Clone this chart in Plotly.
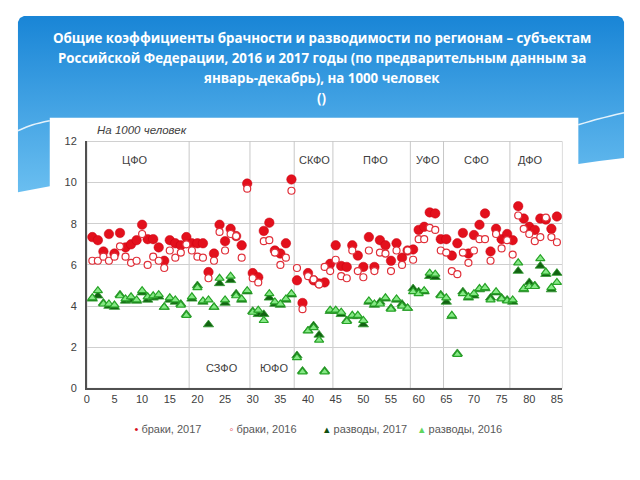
import plotly.graph_objects as go

# ---------------- data ----------------
regions_x = list(range(1, 86))

marriages_2017 = [7.35, 7.2, 6.65, 7.5, 6.55, 7.55, 6.85, 7.0, 7.2, 7.95,
                  7.25, 7.25, 6.85, 6.2, 7.2, 7.05, 6.95, 7.35, 7.05, 7.05,
                  7.05, 5.65, 6.55, 7.95, 7.15, 7.75, 7.4, 6.95, 9.95, 5.6,
                  5.4, 7.65, 8.05, 6.7, 6.55, 7.05, 10.15, 5.25, 4.15, 5.6,
                  5.25, 5.1, 5.15, 6.05, 6.95, 5.95, 5.9, 6.95, 6.45, 5.9,
                  7.35, 5.9, 7.2, 6.95, 6.2, 7.05, 6.35, 6.7, 6.75, 7.7,
                  7.85, 8.55, 8.5, 7.25, 7.25, 6.45, 7.05, 7.55, 6.55, 7.45,
                  7.95, 8.5, 6.65, 7.75, 7.25, 7.5, 7.2, 8.85, 8.25, 7.85,
                  7.7, 8.25, 8.2, 7.75, 8.35]

marriages_2016 = [6.2, 6.2, 6.4, 6.2, 6.4, 6.9, 6.4, 6.1, 6.2, 7.5,
                  6.0, 6.4, 6.2, 5.85, 6.7, 6.35, 6.6, 7.0, 6.7, 6.4,
                  6.35, 5.35, 6.2, 7.6, 6.7, 7.5, 7.4, 6.35, 9.7, 5.35,
                  5.15, 7.15, 7.2, 6.6, 6.0, 6.35, 9.6, 5.85, 3.85, 5.45,
                  5.3, 5.05, 5.9, 5.7, 6.25, 5.45, 5.35, 6.7, 5.7, 5.4,
                  6.7, 5.7, 6.6, 6.55, 5.7, 6.7, 6.0, 6.7, 6.25, 7.25,
                  7.25, 7.8, 7.7, 6.7, 6.6, 5.7, 5.55, 6.6, 6.1, 6.7,
                  7.25, 7.25, 6.2, 7.5, 6.8, 7.2, 6.5, 8.4, 7.75, 7.5,
                  7.15, 7.35, 8.3, 7.35, 7.1]

divorces_2017 = [4.35, 4.5, 4.15, 4.0, 3.95, 4.55, 4.25, 4.3, 4.25, 4.65,
                 4.3, 4.4, 4.45, 3.95, 4.3, 4.2, 4.1, 3.6, 4.35, 5.0,
                 4.2, 3.1, 3.95, 5.1, 4.15, 5.25, 4.6, 4.3, 4.7, 3.75,
                 3.6, 3.6, 4.4, 4.1, 4.05, 4.3, 4.55, 1.6, 0.85, 2.8,
                 3.05, 2.6, 0.85, 3.75, 3.75, 3.6, 3.3, 3.5, 3.5, 3.1,
                 4.2, 4.05, 4.2, 4.35, 3.9, 4.3, 4.1, 3.9, 4.85, 4.7,
                 4.7, 5.45, 5.4, 4.55, 4.2, 3.5, 1.7, 4.7, 4.4, 4.5,
                 4.8, 4.85, 4.4, 4.65, 4.4, 4.3, 4.2, 5.7, 4.8, 5.15,
                 5.0, 5.95, 5.55, 4.8, 5.6]

divorces_2016 = [4.4, 4.75, 4.1, 4.1, 4.05, 4.5, 4.35, 4.45, 4.3, 4.75,
                 4.45, 4.5, 4.55, 3.95, 4.4, 4.3, 4.05, 3.55, 4.45, 4.9,
                 4.25, 4.3, 3.95, 5.35, 4.3, 5.45, 4.5, 4.35, 4.75, 3.7,
                 3.8, 3.3, 4.6, 4.2, 4.1, 4.35, 4.6, 1.5, 0.8, 2.8,
                 2.95, 2.35, 0.8, 3.8, 3.8, 3.7, 3.25, 3.55, 3.55, 3.3,
                 4.25, 4.1, 4.1, 4.4, 3.85, 4.35, 4.0, 3.9, 4.7, 4.6,
                 4.75, 5.6, 5.55, 4.5, 4.4, 3.55, 1.65, 4.6, 4.45, 4.6,
                 4.85, 4.9, 4.3, 4.7, 4.35, 4.25, 4.3, 6.1, 4.85, 4.95,
                 4.95, 6.3, 5.65, 4.9, 5.15]

district_bounds = [18.5, 29.5, 37.5, 44.5, 58.5, 64.5, 76.5]
top_labels = ["ЦФО", "СКФО", "ПФО", "УФО", "СФО", "ДФО"]
top_label_x = [8.7, 41.2, 52.2, 61.7, 70.5, 80.2]
bottom_labels = ["СЗФО", "ЮФО"]
bottom_label_x = [24.4, 33.8]

x_ticks = list(range(0, 90, 5))
y_ticks = list(range(0, 14, 2))

series_names = ["браки, 2017", "браки, 2016", "разводы, 2017", "разводы, 2016"]

title_lines = [
    "Общие коэффициенты брачности и разводимости по регионам – субъектам",
    "Российской Федерации, 2016 и 2017 годы (по предварительным данным за",
    "январь-декабрь), на 1000 человек",
    "()",
]

# ---------------- page geometry ----------------
OFF = 8
W, H = 640 - 2 * OFF, 480 - 2 * OFF
VS, VB = 0.968, 7.2          # observed vertical mapping of the page capture

def fy(py):                  # target window y pixel -> figure pixel from top
    return (py - VB) / VS - OFF
def PX(px):
    return px - OFF
def PY(py):
    return H - fy(py)
def FX(px):
    return (px - OFF) / W
def FY(py):
    return 1 - fy(py) / H

fig = go.Figure()

# ---- page decorations on full-page axes (x, y) ----
bx = [15, 15, 17, 21, 619, 623, 625, 625, 600, 579, 500, 320, 140, 47, 30, 15]
by = [192, 23, 19, 17, 17, 19, 23, 158, 161, 164, 170, 176, 182, 186, 189, 192]
fig.add_trace(go.Scatter(
    x=[PX(v) for v in bx], y=[PY(v) for v in by], mode="lines", fill="toself",
    line=dict(width=0, color="rgba(0,0,0,0)"),
    fillgradient=dict(type="vertical",
                      colorscale=[[0, "#6cc0f1"], [1, "#1985d6"]],
                      start=PY(192), stop=PY(17)),
    hoverinfo="skip", showlegend=False, xaxis="x", yaxis="y"))

fig.add_trace(go.Scatter(x=[PX(15), PX(30), PX(47)], y=[PY(131), PY(125), PY(121)], mode="lines",
                         line=dict(color="rgba(255,255,255,0.85)", width=1.5, shape="spline"),
                         hoverinfo="skip", showlegend=False, xaxis="x", yaxis="y"))
fig.add_trace(go.Scatter(x=[PX(579), PX(600), PX(625)], y=[PY(125), PY(119), PY(113)], mode="lines",
                         line=dict(color="rgba(255,255,255,0.85)", width=1.5, shape="spline"),
                         hoverinfo="skip", showlegend=False, xaxis="x", yaxis="y"))

fig.add_trace(go.Scatter(x=[PX(47), PX(579), PX(579), PX(47), PX(47)],
                         y=[PY(118), PY(118), PY(455), PY(455), PY(118)],
                         mode="lines", fill="toself", fillcolor="white",
                         line=dict(width=0, color="white"),
                         hoverinfo="skip", showlegend=False, xaxis="x", yaxis="y"))

# ---- chart on x2 / y2 ----
mk = dict(xaxis="x2", yaxis="y2", mode="markers", hoverinfo="skip", showlegend=False)
fig.add_trace(go.Scatter(x=regions_x, y=marriages_2017,
                         marker=dict(symbol="circle", size=9.5, color="#e3101c",
                                     line=dict(color="#c80010", width=0.5)), **mk))
fig.add_trace(go.Scatter(x=regions_x, y=marriages_2016,
                         marker=dict(symbol="circle", size=7, color="white",
                                     line=dict(color="#e0303a", width=1.2)), **mk))
fig.add_trace(go.Scatter(x=regions_x, y=divorces_2017,
                         marker=dict(symbol="triangle-up", size=9, color="#126312",
                                     line=dict(color="#2f9a2f", width=0.8)), **mk))
fig.add_trace(go.Scatter(x=regions_x, y=divorces_2016,
                         marker=dict(symbol="triangle-up", size=8, color="#86e886",
                                     line=dict(color="#27a327", width=1.2)), **mk))

# legend entries: small coloured glyph right before the label, as in the source
leg_glyphs = [("•", "#d8101c"), ("◦", "#e0303a"), ("▴", "#0f4f0f"), ("▴", "#5fd65f")]
for name, (g, c) in zip(series_names, leg_glyphs):
    fig.add_trace(go.Scatter(x=[None], y=[None], mode="markers",
                             name=f"<span style='color:{c}'>{g}</span> {name}",
                             marker=dict(color="rgba(0,0,0,0)", size=1),
                             xaxis="x2", yaxis="y2"))
fig.add_trace(go.Scatter(x=[None], y=[None], mode="markers", name=" ",
                         marker=dict(color="rgba(0,0,0,0)", size=1),
                         xaxis="x2", yaxis="y2"))

shapes = []
for b in district_bounds:
    shapes.append(dict(type="line", xref="x2", yref="y2", x0=b, x1=b, y0=0, y1=12,
                       line=dict(color="#c8c8c8", width=1), layer="below"))
shapes.append(dict(type="rect", xref="x2", yref="y2", x0=0, x1=86, y0=0, y1=12,
                   line=dict(color="#b5b5b5", width=1), layer="below"))

annotations = []
for t, xv in zip(top_labels, top_label_x):
    annotations.append(dict(x=xv, y=11.1, xref="x2", yref="y2", text=t, showarrow=False,
                            font=dict(family="Liberation Sans", size=11, color="#404040")))
for t, xv in zip(bottom_labels, bottom_label_x):
    annotations.append(dict(x=xv, y=0.98, xref="x2", yref="y2", text=t, showarrow=False,
                            font=dict(family="Liberation Sans", size=11, color="#404040")))
annotations.append(dict(x=FX(93), y=FY(130), xref="paper", yref="paper",
                        xanchor="left", yanchor="middle", showarrow=False,
                        text="<i>На 1000 человек</i>",
                        font=dict(family="Liberation Sans", size=11.5, color="#404040")))
title_y = [39, 59, 79, 98]
for t, ty in zip(title_lines, title_y):
    annotations.append(dict(x=FX(321), y=FY(ty), xref="paper", yref="paper",
                            xanchor="center", yanchor="middle", showarrow=False,
                            text="<b>" + t + "</b>",
                            font=dict(family="Open Sans", size=13.3, color="white")))

fig.update_layout(
    width=W, height=H, margin=dict(l=0, r=0, t=0, b=0),
    paper_bgcolor="white", plot_bgcolor="rgba(0,0,0,0)",
    xaxis=dict(domain=[0, 1], range=[0, W], visible=False, fixedrange=True),
    yaxis=dict(domain=[0, 1], range=[0, H], visible=False, fixedrange=True),
    xaxis2=dict(domain=[FX(84.3), FX(563)], range=[0, 86], anchor="y2",
                tickvals=x_ticks, showgrid=False, zeroline=False,
                showline=True, linecolor="#505050", linewidth=1.5,
                ticks="", tickfont=dict(family="Liberation Sans", size=11, color="#404040")),
    yaxis2=dict(domain=[FY(387), FY(141.5)], range=[0, 12], anchor="x2",
                tickvals=y_ticks, showgrid=True, gridcolor="#cfcfcf", gridwidth=1,
                zeroline=False, showline=True, linecolor="#505050", linewidth=1.5,
                ticks="", ticklabelstandoff=6,
                tickfont=dict(family="Liberation Sans", size=11, color="#404040")),
    shapes=shapes, annotations=annotations,
    legend=dict(orientation="h", x=FX(92), xanchor="left", y=FY(427), yanchor="middle",
                font=dict(family="Liberation Sans", size=11, color="#595959"),
                itemwidth=30, entrywidth=50, bgcolor="rgba(0,0,0,0)"),
    showlegend=True,
)

fig.write_html("out.html")
